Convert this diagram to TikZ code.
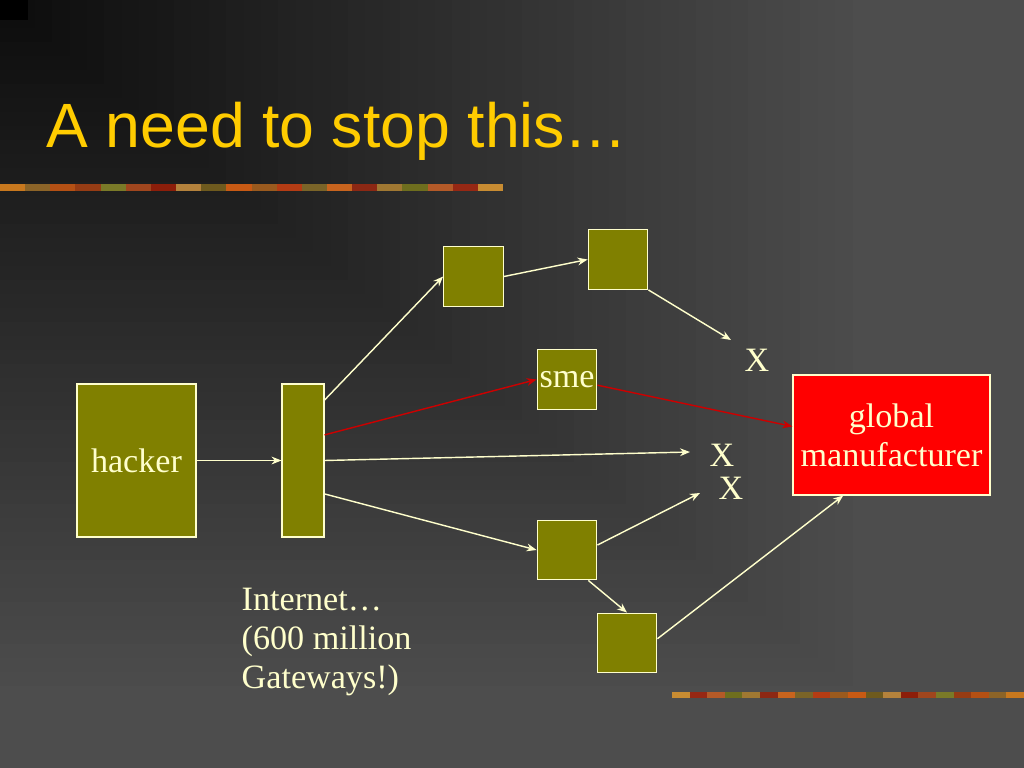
\documentclass[tikz,border=0pt]{standalone}
\usepackage{fontspec}
\setmainfont{Liberation Serif}
\newfontfamily\titlefont{Liberation Sans}
\usetikzlibrary{arrows.meta}

\definecolor{cream}{HTML}{FFFFCC}
\definecolor{hopolive}{HTML}{808000}
\definecolor{titleyellow}{HTML}{FFCC00}
\definecolor{mfrred}{HTML}{FF0000}
\definecolor{pathred}{HTML}{CC0000}
\definecolor{bgfar}{HTML}{4D4D4D}

\begin{document}
\begin{tikzpicture}[x=0.703125pt,y=-0.703125pt,>={Stealth[length=7pt,width=5.5pt]},line width=1pt,
	hop/.style={draw=cream,fill=hopolive,line width=0.8pt,inner sep=0pt,
		minimum width=42pt,minimum height=42pt,text=cream,font=\fontsize{24}{27.6}\selectfont},
	label text/.style={text=cream,inner sep=0pt,font=\fontsize{24}{27.6}\selectfont},
	link/.style={every edge/.style={draw=cream,->}},
	bad link/.style={every edge/.style={draw=pathred,->}}]
	
	% background, dark in the upper left corner
	\fill[bgfar] (0,0) rectangle (1024,768);
	\foreach \i in {1,...,50} {
		\pgfmathtruncatemacro\g{77-1.3*\i}
		\definecolor{bgstep}{RGB}{\g,\g,\g}
		\fill[bgstep] (0,0) rectangle ({870*(1-\i/50)},{700*(1-\i/50)});
	}
	\fill[black] (0,0) rectangle (28,20);
	\useasboundingbox (0,0) rectangle (1024,768);
	
	% decorative bars
	\foreach \c [count=\i] in {C8781E,8C6428,B45014,963C14,7A7A28,A0461E,8C1E0A,B4823C,6E5A1E,C85A14,
		9A5A1E,B43C14,7A6428,C8641E,8C2814,A07832,6E6E1E,B45A28,962814,C88C32} {
		\definecolor{barpiece}{HTML}{\c}
		\fill[barpiece] ({(\i-1)*25.15},184) rectangle ({\i*25.15},191);
		\fill[barpiece] ({1024-\i*17.6},692) rectangle ({1024-(\i-1)*17.6},698);
	}
	
	\node[anchor=base west,inner sep=0pt,text=titleyellow,font=\titlefont\fontsize{44}{50}\selectfont]
		(title) at (46,148) {A need to stop this…};
	
	\node[hop,minimum width=83.7pt,minimum height=107.6pt] (hacker) at (136.5,460.5) {\raisebox{-1pt}{hacker}};
	\node[hop,minimum width=29.5pt,minimum height=107.6pt] (gw) at (303,460.5) {};
	\node[hop] (hopA) at (473.5,276.5) {};
	\node[hop] (hopB) at (618,259.5) {};
	\node[hop] (sme) at (567,379.5) {\raisebox{-3pt}{sme}};
	\node[hop] (hopC) at (567,550) {};
	\node[hop] (hopD) at (627,643) {};
	\node[hop,fill=mfrred,minimum width=138.5pt,minimum height=84.4pt,align=center]
		(mfr) at (891.5,435) {global\\manufacturer};
	
	\node[label text] (xTop) at (757,360) {X};
	\node[label text] (xMid) at (722,455) {X};
	\node[label text] (xLow) at (731,488) {X};
	\coordinate (endTop) at (731,340);
	\coordinate (endMid) at (690,452);
	\coordinate (endLow) at (700,493);
	
	\node[label text,anchor=north west,align=left] (internet) at (241,587)
		{Internet…\\(600 million\\Gateways!)};
	
	\path[link]
	(hacker) edge (gw)
	([yshift=42.5pt]gw.east) edge (hopA.west)
	(hopA.east) edge (hopB.west)
	(hopB.south east) edge (endTop)
	(gw.east) edge (endMid)
	([yshift=-23.5pt]gw.east) edge (hopC.west)
	([yshift=3.5pt]hopC.east) edge (endLow)
	([xshift=15pt]hopC.south) edge (hopD.north)
	([yshift=3pt]hopD.east) edge ([xshift=-34pt]mfr.south)
	;
	\path[bad link]
	([yshift=18pt]gw.east) edge (sme.west)
	([yshift=-4pt]sme.east) edge ([yshift=6pt]mfr.west)
	;
\end{tikzpicture}
\end{document}
